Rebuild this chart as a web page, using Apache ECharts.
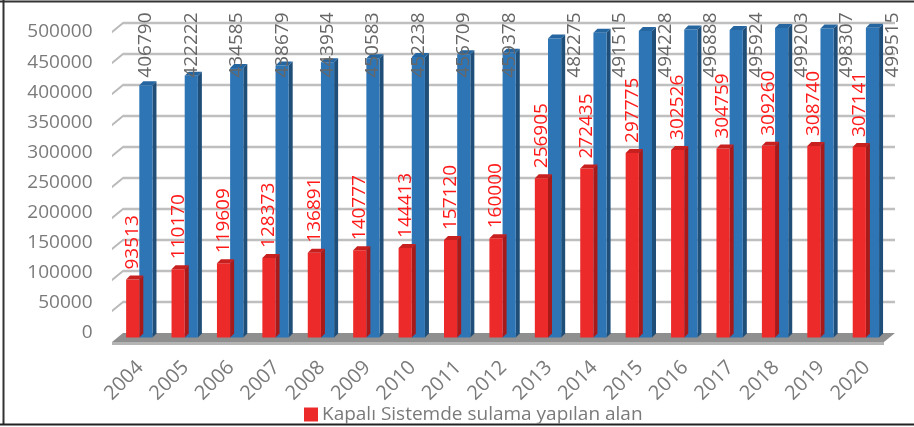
<!DOCTYPE html>
<html>
<head>
<meta charset="utf-8">
<script src="https://cdn.jsdelivr.net/npm/echarts@6/dist/echarts.min.js"></script>
<style>
  html, body { margin: 0; padding: 0; background: #fff; }
  #chart { width: 914px; height: 427px; }
</style>
</head>
<body>
<div id="chart"></div>
<script>
// Years on the category axis
const years = ['2004', '2005', '2006', '2007', '2008', '2009', '2010', '2011', '2012',
  '2013', '2014', '2015', '2016', '2017', '2018', '2019', '2020'];

// Area irrigated with closed (pressurised) systems
const closedSystemArea = [93513, 110170, 119609, 128373, 136891, 140777, 144413, 157120, 160000,
  256905, 272435, 297775, 302526, 304759, 309260, 308740, 307141];

// Total irrigated area
const totalArea = [406790, 422222, 434585, 438679, 443954, 450583, 452238, 456709, 459378,
  482275, 491515, 494228, 496888, 495924, 499203, 498307, 499515];

// Value axis ticks (back wall grid lines)
const valueTicks = [0, 50000, 100000, 150000, 200000, 250000, 300000, 350000, 400000, 450000, 500000];

const closedName = 'Kapalı Sistemde sulama yapılan alan';
const totalName = 'Toplam sulama alanı';

const FONT = 'Open Sans';
const DEPTH = 4;          // bar depth offset, px
const WALL_DX = 5.5;      // half the floor depth, x
const WALL_DY = 4.5;      // half the floor depth, y
const GRID_W = 2.6;       // grid line thickness

// Draws a pseudo-3D column (front, top and right side faces) plus its rotated value label
function columnRenderer(opts) {
  return function (params, api) {
    const idx = api.value(0);
    const val = api.value(1);
    const top = api.coord([idx, val]);
    const base = api.coord([idx, 0]);
    const band = api.size([1, 0])[0];
    const w = band * 0.29;
    const x1 = top[0] + band * opts.start;
    const x2 = x1 + w;
    const yt = top[1];
    const yb = base[1];
    const d = DEPTH;
    const children = [
      { type: 'polygon', shape: { points: [[x2, yt], [x2 + d, yt - d], [x2 + d, yb - d], [x2, yb]] },
        style: { fill: opts.side } },
      { type: 'rect', shape: { x: x1, y: yt, width: w, height: yb - yt },
        style: { fill: opts.front } },
      { type: 'polygon', shape: { points: [[x1, yt], [x1 + d, yt - d], [x2 + d, yt - d], [x2, yt]] },
        style: { fill: opts.top } }
    ];
    let lx, ly, align;
    if (opts.labelAtTop) {
      lx = (x1 + x2) / 2 + (idx >= 9 ? 20 : 0);
      ly = api.coord([idx, 500000])[1] - 15;
      align = 'right';
    } else {
      lx = (x1 + x2) / 2;
      ly = yt - 10;
      align = 'left';
    }
    children.push({
      type: 'text',
      x: lx, y: ly, rotation: Math.PI / 2, z2: 10,
      style: {
        text: String(val), fill: opts.labelColor, font: '19px "' + FONT + '"',
        align: align, verticalAlign: 'middle'
      }
    });
    return { type: 'group', children: children };
  };
}

// Back wall grid lines with the short diagonal side-wall segments, and the floor at zero
function wallRenderer(params, api) {
  const band = api.size([1, 0])[0];
  const left = api.coord([0, 0])[0] - band / 2;
  const right = left + band * years.length;
  const h = GRID_W / 2;
  const children = [];
  valueTicks.forEach(function (t) {
    const y = api.coord([0, t])[1];
    const bx = left + WALL_DX, by = y - WALL_DY;
    const fx = left - WALL_DX, fy = y + WALL_DY;
    if (t === 0) {
      children.push(
        { type: 'polygon', shape: { points: [[fx, fy], [bx, by], [right + WALL_DX, by], [right - WALL_DX, fy]] },
          style: { fill: '#8f8f8f' } },
        { type: 'rect', shape: { x: fx, y: fy, width: right - fx - WALL_DX, height: 3 },
          style: { fill: '#b4b4b4' } }
      );
    } else {
      children.push(
        { type: 'polygon', shape: { points: [[fx, fy - h], [bx, by - h], [bx, by + h], [fx, fy + h]] },
          style: { fill: '#b9b9b9' } },
        { type: 'rect', shape: { x: bx, y: by - h, width: right + WALL_DX - bx, height: GRID_W },
          style: { fill: '#bfbfbf' } }
      );
    }
  });
  return { type: 'group', children: children };
}

const chart = echarts.init(document.getElementById('chart'));

chart.setOption({
  animation: false,
  textStyle: { fontFamily: FONT },
  graphic: [
    { type: 'rect', shape: { x: 0, y: 0.5, width: 914, height: 2 }, style: { fill: '#333' } },
    { type: 'rect', shape: { x: 2.5, y: 0, width: 2, height: 425 }, style: { fill: '#333' } },
    { type: 'rect', shape: { x: 0, y: 423.5, width: 914, height: 2 }, style: { fill: '#222' } }
  ],
  legend: {
    data: [closedName],
    left: 299, top: 400,
    icon: 'rect', itemWidth: 14, itemHeight: 14, itemGap: 6,
    textStyle: { fontFamily: FONT, fontSize: 19, color: '#7a7a7a', padding: [0, 0, 0, -1] }
  },
  grid: [
    { left: 117.5, right: 24.5, top: 27.5, bottom: 89.5 },
    { left: 117.5, right: 24.5, top: 32, bottom: 94 }
  ],
  xAxis: [
    {
      type: 'category', data: years, gridIndex: 0,
      axisLine: { show: false }, axisTick: { show: false },
      axisLabel: { rotate: 45, margin: 27, color: '#7a7a7a', fontSize: 20, fontFamily: FONT, interval: 0 }
    },
    { type: 'category', data: years, gridIndex: 1, show: false }
  ],
  yAxis: [
    { type: 'value', gridIndex: 0, min: 0, max: 500000, interval: 50000,
      axisLabel: { show: false }, splitLine: { show: false }, axisLine: { show: false }, axisTick: { show: false } },
    { type: 'value', gridIndex: 1, min: 0, max: 500000, interval: 50000,
      axisLabel: { color: '#7a7a7a', fontSize: 19, fontFamily: FONT, margin: 25, formatter: v => String(v) },
      splitLine: { show: false }, axisLine: { show: false }, axisTick: { show: false } }
  ],
  series: [
    {
      type: 'custom', name: 'walls', xAxisIndex: 0, yAxisIndex: 0,
      data: [[0, 0]],
      encode: { x: 0, y: 1 },
      clip: false,
      renderItem: wallRenderer
    },
    {
      type: 'custom', name: closedName, xAxisIndex: 0, yAxisIndex: 0, z: 4,
      itemStyle: { color: '#ec2a2a' },
      data: closedSystemArea.map((v, i) => [i, v]),
      encode: { x: 0, y: 1 },
      renderItem: columnRenderer({ start: -0.31, front: '#ec2a2a', top: '#c81f1f', side: '#a81a1a',
        labelColor: '#ff1a1a', labelAtTop: false })
    },
    {
      type: 'custom', name: totalName, xAxisIndex: 0, yAxisIndex: 0, z: 3,
      itemStyle: { color: '#2e75b6' },
      data: totalArea.map((v, i) => [i, v]),
      encode: { x: 0, y: 1 },
      renderItem: columnRenderer({ start: -0.02, front: '#2e75b6', top: '#2565a0', side: '#1f4e79',
        labelColor: '#666666', labelAtTop: true })
    }
  ]
});
</script>
</body>
</html>
